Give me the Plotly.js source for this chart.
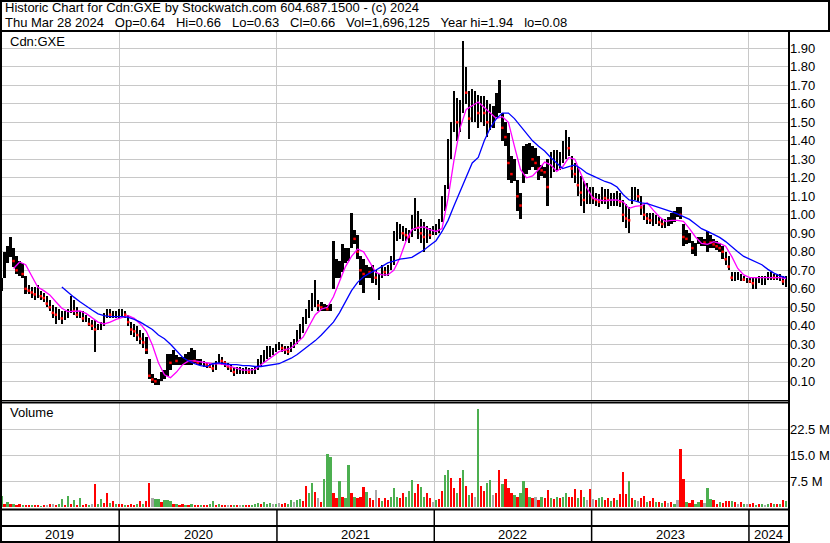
<!DOCTYPE html>
<html><head><meta charset="utf-8">
<script src="https://cdn.plot.ly/plotly-3.0.1.min.js"></script>
<style>html,body{margin:0;padding:0;background:#fff;}#chart{width:830px;height:543px;}</style>
</head><body><div id="chart"></div>
<script>
// ---- data (weekly bars) ----
const firstWeek = '2019-04-03';
const hi = [.66,.80,.83,.88,.82,.78,.75,.74,.67,.62,
.61,.61,.62,.59,.58,.56,.54,.51,.50,.49,
.48,.48,.49,.56,.54,.50,.48,.48,.46,.44,
.43,.43,.41,.42,.47,.49,.49,.48,.48,.49,
.49,.48,.46,.42,.41,.40,.38,.36,.34,.22,
.14,.12,.11,.15,.16,.25,.25,.27,.24,.23,
.23,.25,.26,.28,.27,.22,.22,.21,.20,.20,
.20,.21,.25,.23,.21,.20,.19,.18,.18,.18,
.17,.18,.17,.17,.18,.22,.24,.27,.29,.29,
.28,.30,.31,.30,.29,.29,.31,.33,.38,.41,
.45,.49,.54,.58,.65,.54,.53,.52,.51,.52,
.86,.76,.75,.84,.82,.82,1.01,.92,.89,.78,
.76,.73,.72,.73,.70,.68,.73,.72,.73,.78,
.91,.96,.95,.94,.93,.92,1.00,1.09,1.02,.98,
.96,.94,.93,.94,.95,.98,1.10,1.16,1.41,1.50,
1.67,1.63,1.62,1.94,1.80,1.67,1.68,1.67,1.65,1.64,
1.64,1.62,1.60,1.59,1.66,1.73,1.55,1.50,1.44,1.32,
1.30,1.19,1.12,1.37,1.38,1.39,1.37,1.36,1.32,1.27,
1.26,1.30,1.34,1.35,1.35,1.34,1.40,1.46,1.42,1.32,
1.28,1.26,1.21,1.18,1.17,1.15,1.15,1.12,1.11,1.15,
1.14,1.14,1.12,1.12,1.13,1.12,1.08,1.06,1.04,1.15,
1.15,1.14,1.10,1.06,1.01,1.01,1.01,1.00,.99,.98,
.98,.99,1.01,1.02,1.04,1.04,.95,.92,.90,.86,
.85,.88,.88,.87,.91,.89,.87,.86,.85,.83,
.80,.78,.69,.69,.69,.68,.67,.66,.66,.66,
.66,.67,.67,.67,.69,.69,.68,.68,.68,.67,
.67];
const lo = [.59,.66,.74,.77,.72,.68,.67,.66,.57,.57,
.55,.54,.55,.54,.53,.50,.48,.44,.41,.43,
.41,.43,.44,.47,.46,.44,.44,.42,.42,.40,
.38,.26,.38,.38,.40,.44,.44,.44,.44,.44,
.45,.44,.40,.35,.34,.32,.30,.28,.25,.11,
.09,.08,.08,.10,.11,.13,.16,.19,.19,.19,
.19,.19,.19,.19,.20,.19,.19,.18,.17,.17,
.15,.16,.20,.19,.18,.16,.15,.13,.14,.14,
.14,.14,.14,.14,.14,.16,.18,.20,.22,.23,
.24,.26,.27,.26,.25,.24,.26,.28,.30,.33,
.36,.41,.44,.48,.50,.48,.48,.48,.48,.48,
.60,.66,.66,.69,.74,.75,.82,.84,.76,.62,
.58,.66,.66,.63,.62,.54,.66,.67,.67,.70,
.73,.86,.87,.86,.86,.85,.88,.91,.87,.85,
.80,.85,.87,.89,.89,.90,.96,1.02,1.14,1.30,
1.45,1.40,1.45,1.55,1.60,1.41,1.50,1.50,1.47,1.50,
1.48,1.42,1.46,1.47,1.53,1.55,1.40,1.37,1.19,1.17,
1.18,1.02,.98,1.17,1.22,1.24,1.26,1.24,1.19,1.21,
1.20,1.05,1.20,1.23,1.24,1.24,1.28,1.30,1.32,1.20,
1.17,1.10,1.05,1.01,1.06,1.06,1.06,1.05,1.04,1.06,
1.06,1.03,1.05,1.05,1.05,1.04,.96,.93,.90,1.06,
1.08,1.07,1.00,.97,.95,.95,.94,.95,.94,.93,
.93,.94,.95,.96,.99,.98,.83,.84,.85,.79,
.78,.84,.83,.83,.80,.82,.82,.81,.80,.76,
.73,.70,.64,.64,.65,.64,.64,.63,.63,.60,
.60,.63,.62,.62,.65,.65,.65,.65,.64,.62,
.61];
const cl = [.62,.78,.80,.82,.75,.70,.72,.68,.60,.59,
.58,.57,.58,.56,.55,.52,.50,.47,.46,.46,
.44,.45,.47,.52,.48,.46,.46,.44,.44,.41,
.40,.38,.39,.40,.45,.47,.46,.46,.47,.47,
.47,.46,.42,.38,.37,.35,.33,.31,.27,.13,
.11,.10,.10,.12,.14,.22,.20,.23,.21,.21,
.21,.22,.21,.23,.21,.20,.20,.20,.19,.18,
.17,.19,.22,.21,.20,.18,.17,.15,.16,.16,
.16,.16,.15,.16,.16,.20,.21,.24,.26,.26,
.26,.28,.29,.28,.27,.26,.29,.31,.36,.39,
.42,.46,.50,.53,.53,.51,.50,.50,.49,.50,
.70,.70,.70,.78,.78,.80,.90,.87,.80,.70,
.68,.70,.69,.69,.66,.66,.70,.69,.70,.74,
.85,.90,.91,.90,.89,.88,.95,.98,.93,.90,
.88,.90,.89,.91,.92,.96,1.05,1.12,1.30,1.45,
1.55,1.50,1.52,1.75,1.66,1.52,1.58,1.58,1.55,1.58,
1.55,1.50,1.52,1.55,1.60,1.62,1.47,1.42,1.28,1.22,
1.22,1.10,1.05,1.30,1.30,1.32,1.30,1.28,1.25,1.24,
1.23,1.15,1.28,1.30,1.30,1.30,1.35,1.38,1.36,1.25,
1.22,1.16,1.12,1.08,1.10,1.10,1.09,1.08,1.07,1.10,
1.09,1.08,1.08,1.09,1.10,1.07,1.00,.98,.97,1.10,
1.11,1.10,1.04,1.00,.98,.97,.97,.97,.96,.95,
.96,.96,.98,1.00,1.01,1.00,.88,.87,.87,.82,
.82,.86,.86,.85,.86,.85,.84,.83,.82,.80,
.76,.72,.66,.66,.66,.66,.65,.65,.64,.63,
.64,.65,.65,.65,.67,.67,.66,.66,.66,.64,
.66];
// volume in millions of shares
const vol = [3.2,1.0,1.5,0.8,1.0,0.7,0.8,0.6,0.7,0.5,
0.6,0.5,0.6,0.4,0.5,0.6,0.8,1.0,0.6,0.8,
2.3,0.6,3.2,1.0,2.0,0.6,2.6,0.5,0.8,0.6,
0.8,6.6,1.0,2.2,1.2,4.0,1.2,1.6,0.8,1.0,
0.8,0.7,0.6,0.8,0.6,0.8,1.6,0.8,1.8,6.9,
2.5,2.2,2.4,1.5,2.0,2.0,1.8,1.0,0.8,0.6,
0.8,0.6,0.7,0.8,0.6,0.7,0.6,0.5,0.6,0.8,
1.6,0.7,0.8,0.6,0.5,0.6,0.5,0.6,0.5,0.5,
0.6,0.5,0.5,0.6,1.0,1.2,0.8,1.4,1.0,1.2,
0.8,1.0,1.2,0.8,1.2,1.0,2.0,1.5,2.0,2.2,
1.8,6.1,4.0,6.8,4.2,2.5,1.5,8.0,15.3,14.5,
4.0,2.5,7.6,3.0,2.5,12.1,4.0,3.0,2.5,3.0,
5.9,4.2,2.5,2.0,5.0,2.5,1.8,2.5,2.0,3.0,
5.5,3.0,2.5,4.0,3.0,4.5,7.8,4.0,6.6,5.9,
3.0,4.0,2.5,1.5,2.0,2.2,4.5,9.3,10.7,8.5,
5.5,4.0,8.5,10.8,6.0,3.5,4.0,3.0,28.3,6.0,
4.5,7.0,7.8,3.5,4.0,10.7,6.5,8.2,5.5,4.0,
3.5,3.0,4.0,7.6,5.5,3.0,2.5,3.0,2.0,3.0,
2.5,4.8,2.5,2.2,3.0,2.5,3.0,4.0,3.0,3.0,
5.3,2.5,4.8,3.0,2.0,5.3,2.2,2.0,2.5,3.0,
2.0,2.5,1.8,2.6,2.0,3.8,10.2,3.8,7.4,2.5,
2.0,1.8,2.5,3.3,1.5,1.8,2.6,1.5,1.5,1.2,
1.8,1.2,1.5,1.0,2.0,16.6,8.0,1.5,1.2,2.0,
1.0,1.5,2.0,1.2,5.5,2.2,2.0,1.0,1.5,1.2,
1.8,1.8,1.6,1.3,1.0,1.5,1.0,0.8,0.8,1.2,
0.6,0.8,1.0,0.6,1.0,1.2,0.8,1.0,1.0,2.0,
1.7];
// volume bar direction: g = up, r = down, n = unchanged
const volDir = ("grgrgrrgrr"+"grrgrnrnrg"+"grgrgrgrrg"+"nrggrrgrgr"+"rgrrrgrgrr"+
 "nggrgggrgr"+"rgrgrrgrrg"+"grgrrnrgrn"+"grrgggrggg"+"ngnrrggngg"+
 "rrggrnrggg"+"rrgrggrgrr"+"rgrrnrgrrg"+"ggrrgggrrg"+"grrngrrggr"+
 "rgrgrgrngr"+"rggnrrgrrr"+"grggrgrnrg"+"rrgrgrggrr"+"rgrgnrnrgg"+
 "rrgrgrrrgr"+"gnrrgrrgrg"+"rnrgnrrgrr"+"ggrnggrrgr"+"rrgrnrgnrr"+
 "grgngrgrgr"+"g").split('');
// moving averages, read every second week
const maFast = [null,null,0.71,0.745,0.73,0.666,0.61,0.59,0.567,0.53,
0.495,0.477,0.48,0.48,0.467,0.445,0.42,0.41,0.42,0.435,
0.445,0.455,0.44,0.41,0.37,0.296,0.20,0.135,0.12,0.15,
0.19,0.21,0.21,0.205,0.20,0.195,0.195,0.19,0.18,0.17,
0.16,0.16,0.165,0.19,0.215,0.24,0.26,0.27,0.28,0.31,
0.34,0.40,0.46,0.49,0.50,0.557,0.64,0.72,0.775,0.815,
0.80,0.745,0.69,0.675,0.675,0.70,0.765,0.855,0.92,0.93,
0.935,0.92,0.91,0.925,1.09,1.30,1.47,1.57,1.59,1.61,
1.58,1.55,1.52,1.53,1.50,1.37,1.245,1.20,1.21,1.245,
1.285,1.27,1.235,1.26,1.31,1.30,1.225,1.145,1.09,1.08,
1.075,1.08,1.08,1.07,1.035,1.045,1.05,1.065,1.025,0.99,
0.965,0.97,0.97,0.965,0.925,0.88,0.845,0.84,0.855,0.845,
0.83,0.775,0.71,0.675,0.66,0.66,0.66,0.66,0.66,0.66,
0.655];
const maSlow = [null,null,null,null,null,null,null,null,null,null,
0.61,0.58,0.555,0.53,0.505,0.485,0.465,0.455,0.45,0.45,
0.45,0.445,0.435,0.42,0.40,0.38,0.35,0.33,0.30,0.265,
0.23,0.21,0.195,0.185,0.18,0.195,0.20,0.195,0.19,0.19,
0.185,0.185,0.18,0.18,0.185,0.19,0.195,0.21,0.225,0.245,
0.27,0.29,0.32,0.35,0.385,0.42,0.47,0.53,0.59,0.635,
0.665,0.685,0.70,0.72,0.74,0.75,0.76,0.765,0.77,0.79,
0.81,0.835,0.86,0.91,0.97,1.05,1.13,1.21,1.28,1.31,
1.40,1.47,1.52,1.55,1.55,1.52,1.48,1.44,1.40,1.37,
1.345,1.31,1.28,1.25,1.26,1.27,1.25,1.225,1.21,1.195,
1.18,1.17,1.15,1.11,1.08,1.075,1.065,1.06,1.05,1.04,
1.03,1.017,1.005,0.99,0.975,0.95,0.925,0.91,0.895,0.878,
0.855,0.825,0.80,0.775,0.76,0.745,0.73,0.705,0.685,0.67,
0.66];
const priceTicks = [0.1,0.2,0.3,0.4,0.5,0.6,0.7,0.8,0.9,1.0,1.1,1.2,1.3,1.4,1.5,1.6,1.7,1.8,1.9];
const volTicks = [7.5,15,22.5];
const volTickText = ['7.5 M','15.0 M','22.5 M'];
const years = ['2019','2020','2021','2022','2023','2024'];
const yearStarts = ['2020-01-01','2021-01-01','2022-01-01','2023-01-01','2024-01-01'];
const xStart = '2019-03-30 12:00', xEnd = '2024-04-02 22:00';
const SP = '\u00a0\u00a0\u00a0';
const headerLine1 = 'Historic Chart for Cdn:GXE by Stockwatch.com 604.687.1500 - (c) 2024';
const headerLine2 = ['Thu Mar 28 2024','Op=0.64','Hi=0.66','Lo=0.63','Cl=0.66','Vol=1,696,125','Year hi=1.94','lo=0.08'].join(SP);

// ---- build ----
const DAY = 864e5;
const t0 = Date.UTC(2019,3,3);
const weeks = hi.map((_, i) => new Date(t0 + i*7*DAY).toISOString().slice(0,10));
const maDates = maFast.map((_, k) => weeks[2*k]);
const range = hi.map((h, i) => +(h - lo[i]).toFixed(3));
const dnX = [], dnY = [];
cl.forEach((c, i) => { if (i > 0 && c < cl[i-1]) { dnX.push(weeks[i]); dnY.push(c); } });
const colMap = {g:'#4caf50', r:'#ff0000', n:'#a8a8a8'};
const volCol = volDir.map(d => colMap[d]);

const W = 830, H = 543;
const px = x => x / W, py = y => 1 - y / H;
const FONT = 'Liberation Sans, Arial, sans-serif';

const traces = [
  {type:'bar', x:weeks, y:range, base:lo, width:5.4*DAY, marker:{color:'#000', line:{width:0}}, xaxis:'x', yaxis:'y', hoverinfo:'skip'},
  {type:'scatter', mode:'markers', x:dnX, y:dnY, marker:{symbol:'square', size:2.5, color:'#ff0000', line:{width:0}}, xaxis:'x', yaxis:'y', hoverinfo:'skip'},
  {type:'scatter', mode:'lines', x:maDates, y:maFast, line:{color:'#ff00ff', width:1.3}, connectgaps:false, xaxis:'x', yaxis:'y', hoverinfo:'skip'},
  {type:'scatter', mode:'lines', x:maDates, y:maSlow, line:{color:'#0000ff', width:1.3}, connectgaps:false, xaxis:'x', yaxis:'y', hoverinfo:'skip'},
  {type:'bar', x:weeks, y:vol, width:5.2*DAY, marker:{color:volCol, line:{width:0}}, xaxis:'x2', yaxis:'y2', hoverinfo:'skip'}
];

const xax = {type:'date', domain:[0, px(789)], range:[xStart, xEnd], tickvals:yearStarts, showticklabels:false, ticks:'',
  showgrid:true, gridcolor:'#c8c8c8', gridwidth:1, zeroline:false, showline:false, fixedrange:true};
const layout = {
  width:W, height:H, margin:{l:0,r:0,t:0,b:0}, paper_bgcolor:'#fff', plot_bgcolor:'#fff',
  showlegend:false, bargap:0, barmode:'overlay',
  font:{family:FONT, size:13, color:'#000'},
  xaxis: Object.assign({}, xax, {anchor:'y'}),
  xaxis2: Object.assign({}, xax, {anchor:'y2', matches:'x'}),
  yaxis: {domain:[py(400), py(32)], range:[-0.001, 1.988], side:'right', anchor:'x', tickvals:priceTicks,
    ticktext:priceTicks.map(v => v.toFixed(2)), showgrid:true, gridcolor:'#c8c8c8', gridwidth:1, zeroline:false,
    showline:false, ticks:'', tickfont:{family:FONT, size:13, color:'#000'}, fixedrange:true},
  yaxis2: {domain:[py(507), py(403)], range:[0, 30], side:'right', anchor:'x2', tickvals:volTicks, ticktext:volTickText,
    showgrid:true, gridcolor:'#c8c8c8', gridwidth:1, zeroline:false, showline:false, ticks:'',
    tickfont:{family:FONT, size:13, color:'#000'}, fixedrange:true},
  shapes: [],
  annotations: []
};
const hline = (y, x0, x1, w) => ({type:'line', xref:'paper', yref:'paper', x0:px(x0), x1:px(x1), y0:py(y), y1:py(y), line:{color:'#000', width:w}});
const vline = (x, y0, y1, w) => ({type:'line', xref:'paper', yref:'paper', x0:px(x), x1:px(x), y0:py(y0), y1:py(y1), line:{color:'#000', width:w}});
layout.shapes.push(
  hline(1, 0, 830, 2), vline(1, 0, 543, 2), vline(829, 0, 31, 2), hline(31, 0, 830, 2),
  vline(789, 31, 543, 2),
  hline(400.5, 0, 789, 1), hline(402.5, 0, 789, 2),
  hline(509.5, 0, 789, 2), hline(526, 0, 789, 2), hline(542, 0, 789, 2)
);
yearStarts.forEach(d => layout.shapes.push({type:'line', xref:'x', yref:'paper', x0:d, x1:d, y0:py(509), y1:py(542), line:{color:'#000', width:1.5}}));
const ann = (text, x, y, xa) => ({text, xref:'paper', yref:'paper', x:px(x), y:py(y), xanchor:xa||'left', yanchor:'middle', showarrow:false, font:{family:FONT, size:13, color:'#000'}});
layout.annotations.push(ann(headerLine1, 3, 8), ann(headerLine2, 3, 22.5), ann('Cdn:GXE', 8, 41.5), ann('Volume', 8, 413));
const bounds = [xStart].concat(yearStarts, [xEnd]).map(s => new Date(s.replace(' ', 'T') + (s.length > 10 ? ':00Z' : 'T00:00:00Z')).getTime());
years.forEach((yr, k) => {
  const mid = new Date((bounds[k] + bounds[k+1]) / 2).toISOString().replace('T',' ').slice(0,19);
  layout.annotations.push({text:yr, xref:'x', yref:'paper', x:mid, y:py(534), xanchor:'center', yanchor:'middle', showarrow:false, font:{family:FONT, size:13, color:'#000'}});
});
Plotly.newPlot('chart', traces, layout, {staticPlot:true, displayModeBar:false});
</script></body></html>
